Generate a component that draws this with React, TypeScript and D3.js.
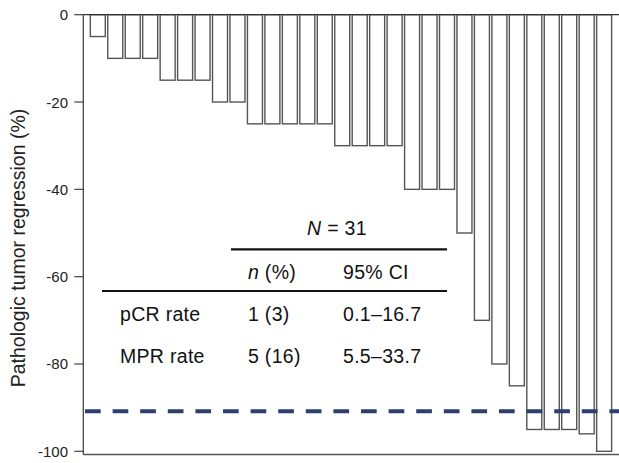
import React from "react";
import * as d3 from "d3";

const patients: number[] = Array.from({ length: 30 }, (_, i) => i + 1);
const regression: number[] = [
  -5, -10, -10, -10, -15, -15, -15, -20, -20, -25, -25, -25, -25, -25, -30, -30,
  -30, -30, -40, -40, -40, -50, -70, -80, -85, -95, -95, -95, -96, -100,
];
const yTicks: number[] = [0, -20, -40, -60, -80, -100];
const mprThreshold = -90.8;
const tableHeader: string[] = ["n (%)", "95% CI"];
const tableRows: string[] = ["pCR rate", "MPR rate"];
const tableN: string[] = ["1 (3)", "5 (16)"];
const tableCI: string[] = ["0.1–16.7", "5.5–33.7"];
const nTotal = 31;

const W = 619;
const H = 463;

export default function App() {
  const y = d3.scaleLinear().domain([0, -100]).range([14.7, 451.3]);
  const x = d3
    .scaleBand<number>()
    .domain(patients)
    .range([89.07, 89.07 + 30 * 17.46])
    .paddingInner(0.141)
    .paddingOuter(0.0705);
  const axisX = 83.3;
  const bottomY = 454.5;
  const font = "'Liberation Sans', Arial, sans-serif";
  const tf = 19.5;
  const ls = 0.3;
  const col1 = 120;
  const col2 = 248;
  const col3 = 343;

  return (
    <svg
      width={W}
      height={H}
      style={{ position: "absolute", left: 0, top: 0, background: "#fff" }}
      fontFamily={font}
    >
      {/* bars */}
      {patients.map((p, i) => (
        <rect
          key={p}
          x={x(p)}
          y={y(0)}
          width={x.bandwidth()}
          height={y(regression[i]) - y(0)}
          fill="#fff"
          stroke="#555"
          strokeWidth={1.4}
        />
      ))}
      {/* frame */}
      <line x1={axisX} x2={W} y1={y(0)} y2={y(0)} stroke="#333" strokeWidth={1.3} />
      <line x1={axisX} x2={W} y1={bottomY} y2={bottomY} stroke="#555" strokeWidth={1.3} />
      <line x1={axisX} x2={axisX} y1={y(0)} y2={bottomY} stroke="#444" strokeWidth={1.3} />
      {/* ticks */}
      {yTicks.map((t) => (
        <g key={t}>
          <line x1={axisX - 9} x2={axisX} y1={y(t)} y2={y(t)} stroke="#444" strokeWidth={1.2} />
          <text
            x={68}
            y={y(t)}
            textAnchor="end"
            dominantBaseline="central"
            fontSize={15}
            fill="#222"
          >
            {t}
          </text>
        </g>
      ))}
      {/* y title */}
      <text
        transform={`translate(25,248) rotate(-90)`}
        textAnchor="middle"
        fontSize={19.5}
        fill="#222"
      >
        Pathologic tumor regression (%)
      </text>
      {/* dashed threshold */}
      <line
        x1={85}
        x2={W}
        y1={y(mprThreshold)}
        y2={y(mprThreshold)}
        stroke="#2d3f6f"
        strokeWidth={4}
        strokeDasharray="15.7 11.9"
      />
      {/* table */}
      <text x={337} y={235} textAnchor="middle" fontSize={tf} letterSpacing={ls} fill="#111">
        <tspan fontStyle="italic">N</tspan> = {nTotal}
      </text>
      <line x1={231} x2={447} y1={249.3} y2={249.3} stroke="#111" strokeWidth={2.2} />
      <text x={col2} y={279} fontSize={tf} letterSpacing={ls} fill="#111">
        <tspan fontStyle="italic">{tableHeader[0].split(" ")[0]}</tspan>{" " + tableHeader[0].split(" ")[1]}
      </text>
      <text x={col3} y={279} fontSize={tf} letterSpacing={ls} fill="#111">
        {tableHeader[1]}
      </text>
      <line x1={102} x2={447} y1={291} y2={291} stroke="#111" strokeWidth={2.2} />
      {tableRows.map((r, i) => (
        <g key={r}>
          <text x={col1} y={320.7 + i * 42} fontSize={tf} letterSpacing={ls} fill="#111">
            {r}
          </text>
          <text x={col2} y={320.7 + i * 42} fontSize={tf} letterSpacing={ls} fill="#111">
            {tableN[i]}
          </text>
          <text x={col3} y={320.7 + i * 42} fontSize={tf} letterSpacing={ls} fill="#111">
            {tableCI[i]}
          </text>
        </g>
      ))}
    </svg>
  );
}
